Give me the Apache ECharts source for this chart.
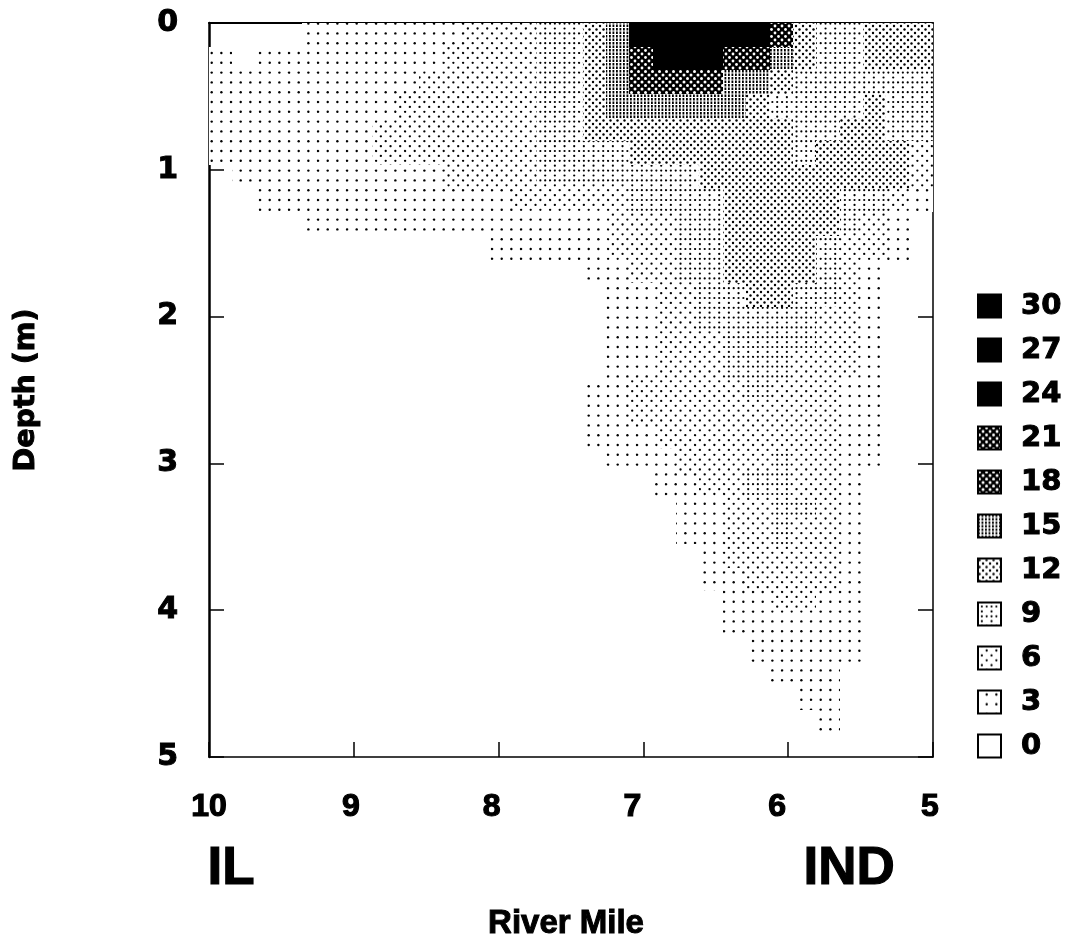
<!DOCTYPE html>
<html><head><meta charset="utf-8">
<style>html,body{margin:0;padding:0;background:#fff}#c{width:1068px;height:939px}</style>
<script src="https://cdn.jsdelivr.net/npm/echarts@6/dist/echarts.min.js"></script>
</head><body><div id="c"></div>
<script>
const legendLevels = [30,27,24,21,18,15,12,9,6,3,0];
const xTicks = [10,9,8,7,6,5];
const yTicks = [0,1,2,3,4,5];
const gridColumns = 31, gridRows = 31;
// each row: depth band from the surface down; each entry: level from river mile 10 to river mile 5
const depthRows = [
[0,0,0,0,3,3,3,3,3,3,3,6,6,6,9,9,12,15,24,27,27,27,24,24,21,12,9,9,12,12,12],
[3,0,3,3,3,3,3,3,3,3,6,6,6,6,9,9,12,15,21,27,27,27,21,21,15,12,9,9,12,12,12],
[3,3,3,3,3,3,3,3,3,6,6,6,6,6,9,9,12,15,18,18,18,18,15,15,12,9,9,9,9,9,9],
[3,3,3,3,3,3,3,3,6,6,6,6,6,6,9,9,12,15,15,15,15,15,15,12,9,9,9,9,12,9,9],
[3,3,3,3,3,3,3,6,6,6,6,6,6,6,9,9,12,12,12,12,12,12,12,12,12,9,9,12,12,9,9],
[3,3,3,3,3,3,3,6,6,6,6,6,6,6,9,9,9,9,12,12,12,12,12,12,12,9,12,12,12,12,6],
[0,3,3,3,3,3,3,3,3,3,6,6,6,6,9,9,9,9,9,9,9,12,12,12,12,12,12,12,12,12,6],
[0,0,3,3,3,3,3,3,3,3,3,3,3,6,6,6,6,6,9,9,9,9,12,12,12,12,12,9,9,6,3],
[0,0,0,0,3,3,3,3,3,3,3,3,3,3,3,3,3,6,6,6,9,9,12,12,12,12,12,9,6,3,0],
[0,0,0,0,0,0,0,0,0,0,0,0,3,3,3,3,3,6,6,6,9,9,12,12,12,12,9,6,6,3,0],
[0,0,0,0,0,0,0,0,0,0,0,0,0,0,0,0,3,3,6,6,9,9,12,12,12,12,9,6,3,0,0],
[0,0,0,0,0,0,0,0,0,0,0,0,0,0,0,0,0,3,3,6,6,9,9,12,12,9,9,6,3,0,0],
[0,0,0,0,0,0,0,0,0,0,0,0,0,0,0,0,0,3,3,6,6,9,9,9,9,9,6,6,3,0,0],
[0,0,0,0,0,0,0,0,0,0,0,0,0,0,0,0,0,3,3,6,6,6,9,9,9,9,6,6,3,0,0],
[0,0,0,0,0,0,0,0,0,0,0,0,0,0,0,0,0,3,3,6,6,6,9,9,9,6,6,6,3,0,0],
[0,0,0,0,0,0,0,0,0,0,0,0,0,0,0,0,3,3,6,6,6,6,6,9,6,6,6,3,3,0,0],
[0,0,0,0,0,0,0,0,0,0,0,0,0,0,0,0,3,3,6,6,6,6,6,6,6,6,6,3,3,0,0],
[0,0,0,0,0,0,0,0,0,0,0,0,0,0,0,0,3,3,3,6,6,6,6,6,6,6,6,3,3,0,0],
[0,0,0,0,0,0,0,0,0,0,0,0,0,0,0,0,0,3,3,3,6,6,6,6,9,6,6,3,3,0,0],
[0,0,0,0,0,0,0,0,0,0,0,0,0,0,0,0,0,0,0,3,3,6,6,9,9,6,6,3,0,0,0],
[0,0,0,0,0,0,0,0,0,0,0,0,0,0,0,0,0,0,0,0,3,3,6,6,9,9,6,3,0,0,0],
[0,0,0,0,0,0,0,0,0,0,0,0,0,0,0,0,0,0,0,0,3,3,6,6,9,6,6,3,0,0,0],
[0,0,0,0,0,0,0,0,0,0,0,0,0,0,0,0,0,0,0,0,0,3,6,6,6,6,6,3,0,0,0],
[0,0,0,0,0,0,0,0,0,0,0,0,0,0,0,0,0,0,0,0,0,3,3,6,6,6,6,3,0,0,0],
[0,0,0,0,0,0,0,0,0,0,0,0,0,0,0,0,0,0,0,0,0,0,3,3,6,6,3,3,0,0,0],
[0,0,0,0,0,0,0,0,0,0,0,0,0,0,0,0,0,0,0,0,0,0,3,3,3,3,3,3,0,0,0],
[0,0,0,0,0,0,0,0,0,0,0,0,0,0,0,0,0,0,0,0,0,0,0,3,3,3,3,3,0,0,0],
[0,0,0,0,0,0,0,0,0,0,0,0,0,0,0,0,0,0,0,0,0,0,0,0,3,3,3,0,0,0,0],
[0,0,0,0,0,0,0,0,0,0,0,0,0,0,0,0,0,0,0,0,0,0,0,0,0,3,3,0,0,0,0],
[0,0,0,0,0,0,0,0,0,0,0,0,0,0,0,0,0,0,0,0,0,0,0,0,0,0,3,0,0,0,0],
[0,0,0,0,0,0,0,0,0,0,0,0,0,0,0,0,0,0,0,0,0,0,0,0,0,0,0,0,0,0,0]
];

// halftone tiles
function tile(w, h, paint) {
  const c = document.createElement('canvas'); c.width = w; c.height = h;
  const g = c.getContext('2d');
  g.fillStyle = '#fff'; g.fillRect(0, 0, w, h); g.fillStyle = '#000';
  paint(g, w, h);
  return {image: c, repeat: 'repeat'};
}
const dot = (g, x, y, r) => { g.beginPath(); g.arc(x, y, r, 0, Math.PI * 2); g.fill(); };
function lattice(offsets, r) {
  return tile(29, 49, (g) => {
    const px = 29 / 3, py = 49 / 5;
    for (let i = -1; i < 4; i++) for (let j = -1; j < 6; j++) for (const o of offsets)
      dot(g, 8.7 + (i + o[0]) * px - 9.667, 4 + (j + o[1]) * py, r);
  });
}
const diag = (r, color, bg) => tile(7, 7, (g) => {
  g.fillStyle = bg; g.fillRect(0, 0, 7, 7); g.fillStyle = color;
  for (const [x, y] of [[1.5,1.5],[5,5],[8.5,1.5],[-2,5],[1.5,8.5],[8.5,8.5],[-2,-2],[5,-2]]) dot(g, x, y, r);
});
const fine = tile(7, 7, (g) => {
  g.fillRect(0, 0, 1.8, 7); g.fillRect(3.5, 0, 1.8, 7);
  g.fillStyle = '#fff'; g.fillRect(0, 2.5, 7, 1); g.fillRect(0, 6, 7, 1);
});
const solid = '#000';
const patterns = {
  30: solid, 27: solid, 24: solid,
  21: diag(1.4, '#fff', '#000'),
  18: diag(1.5, '#fff', '#000'),
  15: fine,
  12: diag(1.2, '#000', '#fff'),
  9: lattice([[0,0],[.5,.5],[.5,0]], 1.1),
  6: lattice([[0,0],[.5,.5]], 1.15),
  3: lattice([[0,0]], 1.2),
  0: '#fff'
};

const heavy = {fontFamily: 'DejaVu Sans', fontWeight: 'bold', color: '#000', textBorderColor: '#000', textBorderWidth: 1};
const heavyNarrow = {fontFamily: 'Liberation Sans', fontWeight: 'bold', color: '#000', textBorderColor: '#000', textBorderWidth: 1.2};
const xLabelNudge = {10: 0, 9: 3, 8: 7, 7: 11, 6: 11, 5: 3};
const xRich = {};
xTicks.forEach((t) => { xRich['t' + t] = {fontSize: 32, padding: [0, 2 * xLabelNudge[t], 0, 0], ...heavyNarrow}; });
const cellMile = 5 / gridColumns, cellDepth = 5 / gridRows;

const series = legendLevels.map((lv) => {
  const cells = [];
  depthRows.forEach((row, r) => row.forEach((v, c) => {
    if (v === lv && lv > 0) cells.push([10 - c * cellMile, r * cellDepth, v]);
  }));
  return {
    name: String(lv), type: 'custom', silent: true, animation: false,
    itemStyle: {color: patterns[lv]},
    encode: {x: 0, y: 1},
    data: cells,
    renderItem: (params, api) => {
      const a = api.coord([api.value(0), api.value(1)]);
      const b = api.coord([api.value(0) - cellMile, api.value(1) + cellDepth]);
      const x = Math.round(a[0]), y = Math.round(a[1]);
      return {type: 'rect', shape: {x, y, width: Math.round(b[0]) - x, height: Math.round(b[1]) - y},
        style: {fill: patterns[lv]}};
    }
  };
});

const line = (w) => ({show: true, onZero: false, lineStyle: {color: '#000', width: w}});
const chart = echarts.init(document.getElementById('c'), null, {renderer: 'canvas'});
chart.setOption({
  animation: false,
  backgroundColor: '#fff',
  grid: {left: 209, top: 23, width: 724, height: 734, containLabel: false, outerBoundsMode: 'none'},
  xAxis: [{
    type: 'value', inverse: true, min: 5, max: 10, interval: 1, position: 'bottom',
    axisLine: line(1.5),
    axisTick: {show: true, inside: true, length: 15, lineStyle: {color: '#000', width: 1.5}},
    splitLine: {show: false},
    axisLabel: {margin: 34, formatter: (v) => '{t' + v + '|' + v + '}', rich: xRich},
    name: 'River Mile', nameLocation: 'middle', nameGap: 150,
    nameTextStyle: {fontSize: 33, padding: [0, 10, 0, 0], ...heavyNarrow, textBorderWidth: 1}
  }, {
    type: 'value', inverse: true, min: 5, max: 10, interval: 1, position: 'top',
    axisLine: line(2),
    axisTick: {show: false}, axisLabel: {show: false}, splitLine: {show: false}
  }],
  yAxis: [{
    type: 'value', inverse: true, min: 0, max: 5, interval: 1, position: 'left',
    axisLine: line(2.5),
    axisTick: {show: true, inside: true, length: 15, lineStyle: {color: '#000', width: 1.5}},
    splitLine: {show: false},
    axisLabel: {margin: 31, fontSize: 30, padding: [4, 0, 0, 0], formatter: (v) => String(v), ...heavy},
    name: 'Depth (m)', nameLocation: 'middle', nameGap: 168, nameRotate: 90,
    nameTextStyle: {fontSize: 28.5, ...heavy}
  }, {
    type: 'value', inverse: true, min: 0, max: 5, interval: 1, position: 'right',
    axisLine: line(1.5),
    axisTick: {show: true, inside: true, length: 15, lineStyle: {color: '#000', width: 1.5}},
    axisLabel: {show: false}, splitLine: {show: false}
  }],
  legend: {
    orient: 'vertical', left: 977, top: 291, padding: 0, itemWidth: 23, itemHeight: 23, itemGap: 14,
    selectedMode: false, icon: 'rect', align: 'left',
    data: legendLevels.map(String),
    itemStyle: {borderColor: '#000', borderWidth: 2},
    textStyle: {fontSize: 29, padding: [0, 0, 0, 15], ...heavy}
  },
  graphic: [
    {type: 'text', left: 207, top: 842, style: {text: 'IL', font: 'bold 53px "Liberation Sans"', fill: '#000', stroke: '#000', lineWidth: 1.2}},
    {type: 'text', left: 803, top: 842, style: {text: 'IND', font: 'bold 53px "Liberation Sans"', fill: '#000', stroke: '#000', lineWidth: 1.2}}
  ],
  series
});
</script></body></html>
